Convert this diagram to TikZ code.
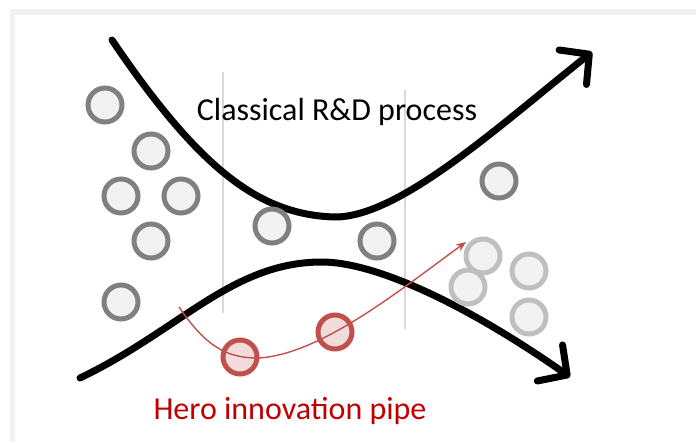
\documentclass[tikz,border=0pt]{standalone}
\usepackage{fontspec}
\setmainfont{Carlito}
\usetikzlibrary{arrows.meta}
\definecolor{framegray}{HTML}{F2F2F2}
\definecolor{ballfill}{HTML}{F2F2F2}
\definecolor{balldark}{HTML}{808080}
\definecolor{balllight}{HTML}{BFBFBF}
\definecolor{herored}{HTML}{C0504D}
\definecolor{herofill}{HTML}{F2DCDB}
\definecolor{herotext}{HTML}{C00000}
\definecolor{stagegray}{HTML}{D9D9D9}
\begin{document}
\begin{tikzpicture}[x=1pt, y=-1pt,
  ball/.style={circle, minimum size=34pt, inner sep=0pt, line width=5pt, draw=balldark, fill=ballfill},
  fadedball/.style={ball, draw=balllight},
  heroball/.style={ball, draw=herored, fill=herofill},
  funnel/.style={line width=7pt, line cap=round, -{Straight Barb[length=21pt, width=44pt, line cap=round, round]}},
  heropipe/.style={line width=1.4pt, draw=herored, -{Stealth[length=10pt, width=8pt]}},
  stage/.style={line width=2.6pt, draw=stagegray},
  label/.style={font=\fontsize{32}{38}\selectfont, anchor=base}]
\useasboundingbox (0,0) rectangle (696,442);
\fill[framegray] (9.5,9) rectangle (696,15);
\fill[framegray] (9.5,9) rectangle (15,442);

\coordinate (S1t) at (223,72);
\coordinate (S1b) at (223,313);
\coordinate (S2t) at (405,90);
\coordinate (S2b) at (405,329);
\draw[stage] (S1t) -- (S1b);
\draw[stage] (S2t) -- (S2b);

\coordinate (US) at (112,40);
\coordinate (UM) at (335,217);
\coordinate (UE) at (592,52);
\coordinate (LS) at (80,378);
\coordinate (LM) at (322,262);
\coordinate (LE) at (570,377);
\draw[funnel] (US) .. controls (200,170) and (260,215) .. (UM)
  .. controls (400,217) and (500,125) .. (UE);
\draw[funnel] (LS) .. controls (180,330) and (232,262) .. (LM)
  .. controls (372,262) and (460,300) .. (LE);

\node[ball] (g1) at (105,105) {};
\node[ball] (g2) at (151,151) {};
\node[ball] (g3) at (121,196) {};
\node[ball] (g4) at (181,196) {};
\node[ball] (g5) at (151,241) {};
\node[ball] (g6) at (121,302) {};
\node[ball] (g7) at (272,226) {};
\node[ball] (g8) at (377,241) {};
\node[ball] (g9) at (499,181) {};

\node[fadedball] (f1) at (483,256) {};
\node[fadedball] (f2) at (468,287) {};
\node[fadedball] (f3) at (529,271) {};
\node[fadedball] (f4) at (529,317) {};

\node[heroball] (h1) at (240,357) {};
\node[heroball] (h2) at (335,332) {};

\coordinate (RS) at (179,307);
\coordinate (RM) at (258,358);
\coordinate (RE) at (466,242);
\draw[heropipe] (RS) .. controls (205,345) and (225,358) .. (RM)
  .. controls (320,355) and (400,290) .. (RE);

\node[label] (title) at (337,120) {Classical R\&D process};
\node[label, text=herotext] (hero) at (290,419) {Hero innovation pipe};
\end{tikzpicture}
\end{document}
